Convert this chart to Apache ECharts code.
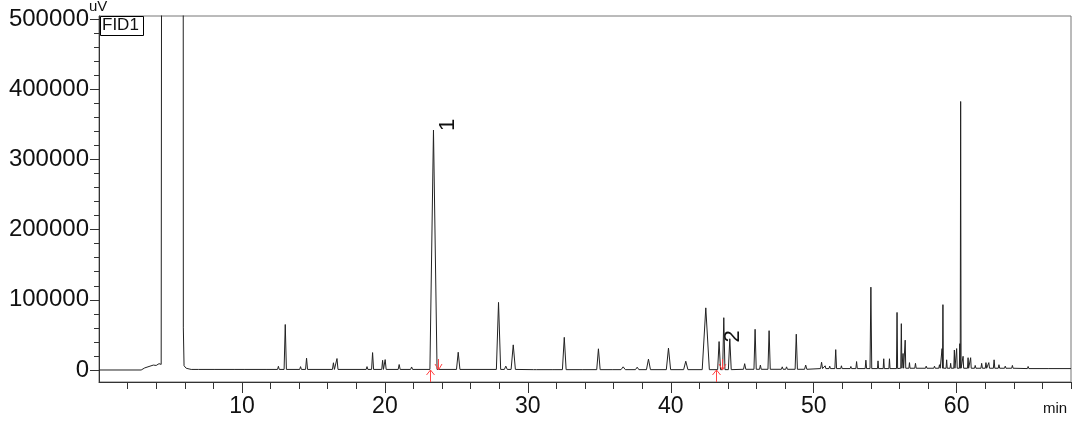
<!DOCTYPE html>
<html><head><meta charset="utf-8">
<script src="https://cdn.jsdelivr.net/npm/echarts@6/dist/echarts.min.js"></script>
<style>html,body{margin:0;padding:0;background:#fff}#c{width:1080px;height:431px}</style>
</head><body><div id="c"></div>
<script>
// ---- axis ticks / labels ----
const yMajorTicks = [0, 100000, 200000, 300000, 400000, 500000];
const yMinorTicks = [20000, 40000, 60000, 80000, 120000, 140000, 160000, 180000, 220000, 240000, 260000, 280000,
  320000, 340000, 360000, 380000, 420000, 440000, 460000, 480000];
const xMajorTicks = [10, 20, 30, 40, 50, 60];
const xMinorTicks = [2, 4, 6, 8, 12, 14, 16, 18, 22, 24, 26, 28, 32, 34, 36, 38, 42, 44, 46, 48,
  52, 54, 56, 58, 62, 64, 66, 68];

// ---- solvent region of the trace (min, uV) ----
const solventTimes  = [0, 2.95, 3.2, 3.5, 3.8, 4.0, 4.2, 4.35, 4.45, 4.49, 5.86, 5.9, 5.95, 6.1, 6.3];
const solventValues = [0, 0, 3000, 5000, 7000, 6500, 9000, 8000, 7000, 3000000, 3000000, 60000, 6000, 2500, 1500];

// ---- baseline levels (step) ----
const baselineTimes  = [0, 6.2, 30, 45, 50, 56, 64];
const baselineLevels = [0, 800, 500, 1000, 2000, 2500, 2000];

// ---- peaks: retention time (min), height above baseline (uV), half width (min) ----
const peakTimes = [6.5, 7.0, 8.1, 9.5, 10.2, 11.8, 12.55, 13.03, 14.1, 14.52, 16.4, 16.65, 18.75, 19.14, 19.84, 20.02,
  21.0, 21.87, 23.4, 25.13, 27.95, 28.46, 28.98, 30.5, 31.8, 32.55, 33.75, 34.94, 35.85, 36.67, 37.65, 38.44,
  39.84, 41.05, 42.45, 43.38, 43.71, 44.13, 45.17, 45.9, 46.27, 46.88, 47.8, 48.1, 48.78, 49.44, 50.55, 50.8,
  51.12, 51.54, 51.94, 52.6, 53.0, 53.65, 54.0, 54.5, 54.9, 55.3, 55.83, 56.13, 56.25, 56.4, 56.7, 57.12,
  57.87, 58.45, 58.8, 58.98, 59.04, 59.3, 59.58, 59.84, 60.0, 60.22, 60.28, 60.45, 60.8, 60.98, 61.3, 61.75,
  62.05, 62.25, 62.62, 62.96, 63.4, 63.9, 65.0, 66.45];
const peakHeights = [2000, 1500, 1000, 1000, 2500, 2000, 4500, 64000, 4000, 16000, 9500, 15500, 4000, 24000, 13000, 14000,
  7000, 3500, 341000, 24500, 95500, 4700, 35000, 1500, 1500, 46000, 1500, 29700, 2000, 4000, 3500, 15000,
  30700, 12000, 88000, 40000, 74000, 44000, 8000, 57000, 6000, 55000, 3500, 3500, 50000, 6000, 9000, 4000,
  3500, 27000, 4000, 3000, 10000, 12000, 116000, 11000, 14000, 14000, 80000, 63500, 21000, 40000, 8000, 7000,
  3000, 3000, 5000, 28000, 90600, 12000, 7000, 26000, 28000, 35000, 380000, 17000, 15000, 15000, 4000, 7000,
  8000, 8000, 12000, 5000, 3000, 4000, 3000, 1500];
const peakHalfWidths = [0.05, 0.05, 0.05, 0.05, 0.05, 0.05, 0.06, 0.08, 0.06, 0.07, 0.07, 0.07, 0.06, 0.07, 0.06, 0.07,
  0.07, 0.07, 0.25, 0.12, 0.15, 0.1, 0.15, 0.1, 0.1, 0.13, 0.1, 0.12, 0.1, 0.15, 0.12, 0.14,
  0.15, 0.15, 0.25, 0.1, 0.08, 0.1, 0.08, 0.08, 0.06, 0.08, 0.06, 0.06, 0.08, 0.08, 0.07, 0.05,
  0.05, 0.06, 0.05, 0.05, 0.05, 0.05, 0.06, 0.04, 0.04, 0.04, 0.04, 0.04, 0.04, 0.04, 0.04, 0.05,
  0.05, 0.05, 0.05, 0.03, 0.03, 0.04, 0.04, 0.04, 0.04, 0.03, 0.03, 0.04, 0.04, 0.04, 0.05, 0.05,
  0.05, 0.05, 0.05, 0.05, 0.05, 0.05, 0.05, 0.05];

// ---- integration marks and peak labels ----
const peakStartTimes = [23.13, 43.18];
const peakEndTimes   = [23.69, 43.6];
const labelTimes = [23.4, 43.38];
const labelNames = ['1', '2'];

function baseAt(t) {
  let b = baselineLevels[0];
  for (let i = 0; i < baselineTimes.length; i++) if (baselineTimes[i] <= t) b = baselineLevels[i];
  return b;
}
const trace = [];
for (let i = 0; i < solventTimes.length; i++) trace.push([solventTimes[i], solventValues[i]]);
for (let i = 0; i < peakTimes.length; i++) {
  const t = peakTimes[i], w = peakHalfWidths[i], b = baseAt(t);
  trace.push([t - w, b], [t, b + peakHeights[i]], [t + w, b]);
}
trace.push([68, baseAt(68)]);

const arrows = peakStartTimes.map(t => [t, 0]).concat(peakEndTimes.map(t => [t, 1]));
const labels = labelTimes.map(t => { const i = peakTimes.indexOf(t); return [t, baseAt(t) + peakHeights[i]]; });

const FONT = 'Liberation Sans, Arial, sans-serif';
const Y_MIN = -17100, Y_MAX = 504300;
const chart = echarts.init(document.getElementById('c'), null, {renderer: 'canvas'});
chart.setOption({
  animation: false,
  backgroundColor: '#fff',
  grid: {left: 99, right: 9, top: 16, bottom: 49, show: true, borderColor: '#777', borderWidth: 1,
    containLabel: false, outerBoundsMode: 'none'},
  xAxis: [{
    type: 'value', min: 0, max: 68, position: 'bottom',
    axisLine: {show: true, onZero: false, lineStyle: {color: '#333', width: 1}},
    axisTick: {show: true, length: 11, customValues: xMajorTicks, lineStyle: {color: '#333'}},
    axisLabel: {customValues: xMajorTicks, margin: 13, fontSize: 23, color: '#111', fontFamily: FONT,
      formatter: v => String(v)},
    splitLine: {show: false}
  }, {
    type: 'value', min: 0, max: 68, position: 'bottom',
    axisLine: {show: false, onZero: false},
    axisTick: {show: true, length: 7, customValues: xMinorTicks, lineStyle: {color: '#333'}},
    axisLabel: {show: false}, splitLine: {show: false}
  }],
  yAxis: [{
    type: 'value', min: Y_MIN, max: Y_MAX, position: 'left',
    axisLine: {show: true, onZero: false, lineStyle: {color: '#333', width: 1}},
    axisTick: {show: true, length: 9, customValues: yMajorTicks, lineStyle: {color: '#333'}},
    axisLabel: {customValues: yMajorTicks, margin: 10, fontSize: 24, color: '#111', fontFamily: FONT,
      formatter: v => String(v)},
    splitLine: {show: false}
  }, {
    type: 'value', min: Y_MIN, max: Y_MAX, position: 'left',
    axisLine: {show: false, onZero: false},
    axisTick: {show: true, length: 5, customValues: yMinorTicks, lineStyle: {color: '#333'}},
    axisLabel: {show: false}, splitLine: {show: false}
  }],
  series: [{
    type: 'line', data: trace, showSymbol: false, symbol: 'none', clip: true,
    lineStyle: {color: '#222', width: 1}, z: 3
  }, {
    type: 'custom', coordinateSystem: 'cartesian2d', data: arrows, clip: false, silent: true, z: 5,
    renderItem: function (params, api) {
      const p = api.coord([api.value(0), 0]);
      const x = Math.round(p[0]) + 0.5, y0 = p[1];
      const bottom = params.coordSys.y + params.coordSys.height;
      const style = {stroke: '#ff4444', lineWidth: 1, fill: null};
      if (api.value(1) === 0) {
        return {type: 'group', children: [
          {type: 'polyline', shape: {points: [[x, bottom], [x, y0]]}, style: style},
          {type: 'polyline', shape: {points: [[x - 4, y0 + 5], [x, y0], [x + 4, y0 + 5]]}, style: style}
        ]};
      }
      return {type: 'group', children: [
        {type: 'polyline', shape: {points: [[x, y0 - 11], [x, y0]]}, style: style},
        {type: 'polyline', shape: {points: [[x - 3.5, y0 - 6], [x, y0], [x + 3.5, y0 - 6]]}, style: style}
      ]};
    }
  }, {
    type: 'custom', coordinateSystem: 'cartesian2d', data: labels, clip: false, silent: true, z: 6,
    renderItem: function (params, api) {
      const p = api.coord([api.value(0), api.value(1)]);
      return {type: 'text', x: p[0] + 3, y: p[1] + 1, rotation: Math.PI / 2,
        style: {text: labelNames[params.dataIndex], fontSize: 22, fontFamily: FONT, fill: '#111',
          align: 'left', verticalAlign: 'top'}};
    }
  }],
  graphic: [
    {type: 'text', left: 89, top: -1, z: 10, style: {text: 'uV', fontSize: 15, fontFamily: FONT, fill: '#111'}},
    {type: 'text', left: 1043, top: 401, z: 10, style: {text: 'min', fontSize: 15, fontFamily: FONT, fill: '#111'}},
    {type: 'rect', left: 100, top: 16, z: 10, shape: {width: 43, height: 19},
      style: {fill: '#fff', stroke: '#000', lineWidth: 1}},
    {type: 'text', left: 102, top: 17, z: 11, style: {text: 'FID1', fontSize: 17, fontFamily: FONT, fill: '#111'}}
  ]
});
</script></body></html>
